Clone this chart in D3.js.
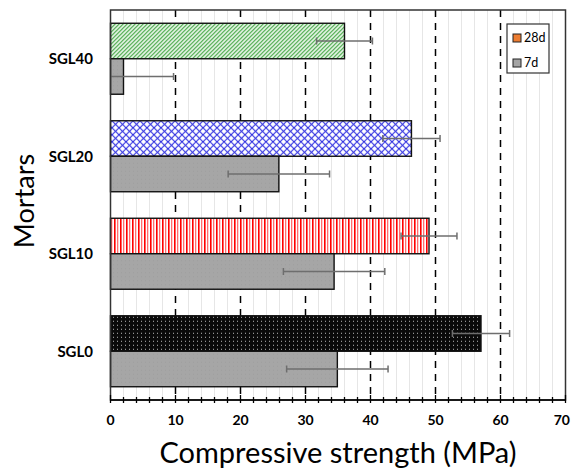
<!DOCTYPE html>
<html><head><meta charset="utf-8">
<script src="https://cdn.jsdelivr.net/npm/d3@7"></script>
<style>
html,body{margin:0;padding:0;background:#fff;}
svg{display:block;font-family:Lato,"Open Sans",sans-serif;}
</style></head>
<body>
<svg id="chart" width="571" height="471"></svg>
<script>
// ---- data ----
const categories = ["SGL0", "SGL10", "SGL20", "SGL40"];
const seriesNames = ["28d", "7d"];
const values28d = [57.0, 49.0, 46.3, 36.0];
const values7d = [34.9, 34.4, 25.9, 2.0];
const err28d = [4.4, 4.3, 4.4, 4.3];
const err7d = [7.8, 7.8, 7.8, 7.7];
const xTicks = [0, 10, 20, 30, 40, 50, 60, 70];
const xMinorTicks = d3.range(0, 71, 2);
const legendColors = {"28d": "#ed7d31", "7d": "#a5a5a5"};

const rows = categories.map((c, i) => ({
  cat: c,
  bars: [
    {s: "28d", v: values28d[i], e: err28d[i], i},
    {s: "7d", v: values7d[i], e: err7d[i], i}
  ]
}));

const svg = d3.select("#chart");
const m = {left: 110.5, right: 5.5, top: 10, bottom: 71};
const W = 571, H = 471;
const x = d3.scaleLinear().domain([0, 70]).range([m.left, W - m.right]);
const y0 = d3.scaleBand().domain(categories.slice().reverse())
  .range([m.top, H - m.bottom]).paddingInner(0.272).paddingOuter(0.136);
const y1 = d3.scaleBand().domain(seriesNames).range([0, y0.bandwidth()]);

// ---- patterns ----
const defs = svg.append("defs");
// green diagonal hatch
let p = defs.append("pattern").attr("id", "pGreen").attr("patternUnits", "userSpaceOnUse")
  .attr("width", 4).attr("height", 4);
p.append("rect").attr("width", 4).attr("height", 4).attr("fill", "#eef8ee");
p.append("path").attr("d", "M-1,1 l2,-2 M0,4 l4,-4 M3,5 l2,-2")
  .attr("stroke", "#2a9a2a").attr("stroke-width", 1.2).attr("stroke-opacity", 0.9);
// blue crosshatch (diamonds)
p = defs.append("pattern").attr("id", "pBlue").attr("patternUnits", "userSpaceOnUse")
  .attr("width", 7).attr("height", 7);
p.append("rect").attr("width", 7).attr("height", 7).attr("fill", "#fff");
p.append("path").attr("d", "M0,0 L7,7 M7,0 L0,7")
  .attr("stroke", "#2d2de0").attr("stroke-width", 1.1);
// red vertical stripes
p = defs.append("pattern").attr("id", "pRed").attr("patternUnits", "userSpaceOnUse")
  .attr("width", 6).attr("height", 6);
p.append("rect").attr("width", 6).attr("height", 6).attr("fill", "#fff");
p.append("rect").attr("x", 0).attr("width", 1.6).attr("height", 6).attr("fill", "#ff0000");
p.append("rect").attr("x", 3).attr("width", 1.3).attr("height", 6).attr("fill", "#ff7070");
// black with white dots
p = defs.append("pattern").attr("id", "pBlack").attr("patternUnits", "userSpaceOnUse")
  .attr("width", 4).attr("height", 4);
p.append("rect").attr("width", 4).attr("height", 4).attr("fill", "#0a0a0a");
p.append("rect").attr("x", 1).attr("y", 1).attr("width", 1).attr("height", 1).attr("fill", "#bdbdbd");
// gray
p = defs.append("pattern").attr("id", "pGray").attr("patternUnits", "userSpaceOnUse")
  .attr("width", 4).attr("height", 4);
p.append("rect").attr("width", 4).attr("height", 4).attr("fill", "#a6a6a6");
p.append("rect").attr("x", 1).attr("y", 2).attr("width", 1).attr("height", 1).attr("fill", "#9e9e9e");

const fill28 = {"SGL0": "url(#pBlack)", "SGL10": "url(#pRed)", "SGL20": "url(#pBlue)", "SGL40": "url(#pGreen)"};

// ---- grid ----
const g = svg.append("g");
g.selectAll(".minor").data(xMinorTicks.filter(d => d % 10 !== 0)).join("line")
  .attr("x1", d => x(d)).attr("x2", d => x(d))
  .attr("y1", m.top).attr("y2", H - m.bottom)
  .attr("stroke", "#e6e6e6").attr("stroke-width", 1);
g.selectAll(".major").data(xTicks.filter(d => d > 0 && d < 70)).join("line")
  .attr("x1", d => x(d)).attr("x2", d => x(d))
  .attr("y1", m.top).attr("y2", H - m.bottom)
  .attr("stroke", "#000").attr("stroke-width", 1.5).attr("stroke-dasharray", "7,6");

// ---- bars ----
const cg = svg.append("g").selectAll("g").data(rows).join("g")
  .attr("transform", d => `translate(0,${y0(d.cat)})`);
cg.selectAll("rect").data(d => d.bars.map(b => ({...b, cat: d.cat}))).join("rect")
  .attr("x", x(0)).attr("y", d => y1(d.s))
  .attr("width", d => x(d.v) - x(0)).attr("height", y1.bandwidth())
  .attr("fill", d => d.s === "28d" ? fill28[d.cat] : "url(#pGray)")
  .attr("stroke", "#111").attr("stroke-width", 1.4);

// ---- error bars ----
const eb = cg.selectAll("g.err").data(d => d.bars).join("g").attr("class", "err")
  .attr("stroke", "#6e6e6e").attr("stroke-width", 1.5);
eb.append("line")
  .attr("x1", d => x(Math.max(0, d.v - d.e))).attr("x2", d => x(d.v + d.e))
  .attr("y1", d => y1(d.s) + y1.bandwidth() / 2).attr("y2", d => y1(d.s) + y1.bandwidth() / 2);
eb.filter(d => d.v - d.e > 0).append("line")
  .attr("x1", d => x(d.v - d.e)).attr("x2", d => x(d.v - d.e))
  .attr("y1", d => y1(d.s) + y1.bandwidth() / 2 - 3.5).attr("y2", d => y1(d.s) + y1.bandwidth() / 2 + 3.5);
eb.append("line")
  .attr("x1", d => x(d.v + d.e)).attr("x2", d => x(d.v + d.e))
  .attr("y1", d => y1(d.s) + y1.bandwidth() / 2 - 3.5).attr("y2", d => y1(d.s) + y1.bandwidth() / 2 + 3.5);

// ---- frame ----
svg.append("rect").attr("x", m.left).attr("y", m.top)
  .attr("width", W - m.right - m.left).attr("height", H - m.bottom - m.top)
  .attr("fill", "none").attr("stroke", "#333").attr("stroke-width", 1.5);

// ---- x axis ----
const xAxis = svg.append("g").attr("transform", `translate(0,${H - m.bottom})`);
xAxis.selectAll(".tk").data(xMinorTicks).join("line")
  .attr("x1", d => x(d)).attr("x2", d => x(d))
  .attr("y1", d => d % 10 === 0 ? -5 : -3).attr("y2", 3)
  .attr("stroke", "#000").attr("stroke-width", 1.3);
xAxis.append("line").attr("x1", m.left).attr("x2", W - m.right)
  .attr("stroke", "#000").attr("stroke-width", 1.5);
xAxis.selectAll("text").data(xTicks).join("text")
  .attr("x", d => d === 70 ? W - 1 : x(d)).attr("y", 25)
  .attr("text-anchor", d => d === 70 ? "end" : "middle")
  .attr("font-size", 14).attr("font-weight", "bold")
  .attr("fill", "#000").text(d => d);

// ---- y axis labels ----
svg.append("g").selectAll("text").data(categories).join("text")
  .attr("x", 93).attr("y", d => y0(d) + y0.bandwidth() / 2)
  .attr("dy", "0.35em").attr("text-anchor", "end")
  .attr("font-size", 15).attr("font-weight", "bold").attr("fill", "#000")
  .text(d => d);

// ---- titles ----
svg.append("text").attr("x", x(35)).attr("y", 463)
  .attr("text-anchor", "middle").attr("font-size", 29).attr("fill", "#000")
  .text("Compressive strength (MPa)");
svg.append("text").attr("transform", `translate(34,201) rotate(-90)`)
  .attr("text-anchor", "middle").attr("font-size", 27).attr("fill", "#000")
  .text("Mortars");

// ---- legend ----
const lg = svg.append("g").attr("transform", "translate(507,24)");
lg.append("rect").attr("width", 42).attr("height", 49)
  .attr("fill", "#fff").attr("stroke", "#333").attr("stroke-width", 1.2);
const li = lg.selectAll("g").data(seriesNames).join("g")
  .attr("transform", (d, i) => `translate(6,${14 + i * 25})`);
li.append("rect").attr("x", 0).attr("y", -4).attr("width", 8).attr("height", 8)
  .attr("fill", d => legendColors[d]).attr("stroke", "#222").attr("stroke-width", 1);
li.append("text").attr("x", 11).attr("y", 0).attr("dy", "0.35em")
  .attr("font-size", 12.5).attr("fill", "#000").text(d => d);
</script>
</body></html>
